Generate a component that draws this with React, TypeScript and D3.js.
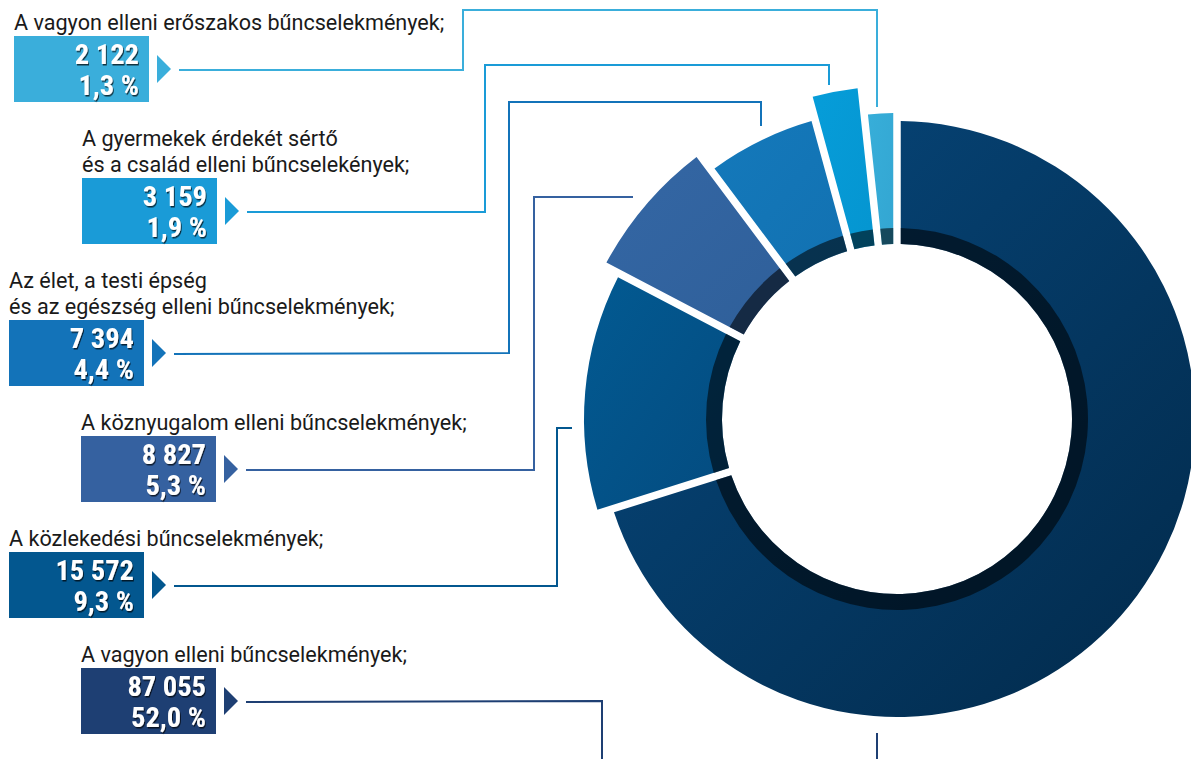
// Externals
import * as d3 from 'd3'
import React, { useEffect, useRef } from 'react'

// Data, listed top to bottom as the labels read (pie runs counter-clockwise from 12 o'clock)
const categories = [
  'A vagyon elleni erőszakos bűncselekmények;',
  'A gyermekek érdekét sértő\nés a család elleni bűncselekények;',
  'Az élet, a testi épség\nés az egészség elleni bűncselekmények;',
  'A köznyugalom elleni bűncselekmények;',
  'A közlekedési bűncselekmények;',
  'A vagyon elleni bűncselekmények;',
]
const counts = [2122, 3159, 7394, 8827, 15572, 87055]
const shares = [1.3, 1.9, 4.4, 5.3, 9.3, 52.0]

// Styles
const sliceColors = ['#37aed9', '#069dd9', '#1479bb', '#3467a5', '#025a92', '#07487d']
const sliceColorsDark = ['#33a6d2', '#0595d0', '#1271b1', '#2f5f99', '#044b7f', '#022a4b']
const boxColors = ['#3aaedb', '#1a9bd7', '#1373b9', '#3561a0', '#03578f', '#1e3f73']
const outerRadii = [306, 333, 310, 330, 313, 298]

// Label layout: box corner and the leader route after it leaves the pointer
const boxX = [14, 82, 9, 81, 9, 81]
const boxY = [36, 178, 320, 436, 552, 668]
const leaderRoutes = [
  [[463, 70], [463, 10], [877, 10], [877, 107]],
  [[485, 212], [485, 65], [829, 65], [829, 85]],
  [[509, 353], [509, 102], [761, 102], [761, 126]],
  [[534, 470], [534, 197], [633, 197]],
  [[557, 586], [557, 428], [572, 428]],
  [[602, 701], [602, 760]],
]

const fmtLocale = d3.formatLocale({
  decimal: ',',
  thousands: '\u00a0',
  grouping: [3],
  currency: ['', ' Ft'],
})
const fmtCount = fmtLocale.format(',d')
const fmtShare = fmtLocale.format(',.1f')

const App = () => {
  const svgRef = useRef<any>(null)

  useEffect(() => {
    if (!svgRef.current) return
    d3.select(svgRef.current).selectAll('*').remove()

    const width = 1191
    const height = 759
    const cx = 897
    const cy = 419
    const innerR = 175
    const ringR = 191
    const boxW = 135
    const boxH = 66
    const gap = 7.5

    const svg = d3.select(svgRef.current)
      .attr('width', width)
      .attr('height', height)

    const defs = svg.append('defs')
    sliceColors.forEach((c, i) => {
      const g = defs.append('linearGradient')
        .attr('id', `slice-grad-${i}`)
        .attr('x1', 0).attr('y1', 0).attr('x2', 1).attr('y2', 1)
      g.append('stop').attr('offset', '0%').attr('stop-color', c)
      g.append('stop').attr('offset', '100%').attr('stop-color', sliceColorsDark[i])
    })
    const shadow = defs.append('filter')
      .attr('id', 'num-shadow')
      .attr('x', '-10%').attr('y', '-20%').attr('width', '130%').attr('height', '150%')
    shadow.append('feDropShadow')
      .attr('dx', 1).attr('dy', 1.5).attr('stdDeviation', 0.6)
      .attr('flood-color', '#000').attr('flood-opacity', 0.7)

    // Donut (gaps are cut out of the slices, not added between them)
    const pie = d3.pie<number>()
      .sort(null)
      .startAngle(0)
      .endAngle(-2 * Math.PI)
    const arcs = pie(counts)

    const chart = svg.append('g')
      .attr('transform', `translate(${cx}, ${cy})`)

    const sliceArc: any = d3.arc()
      .innerRadius(innerR)
      .outerRadius((d: any) => outerRadii[d.index])
      .padAngle(gap / 200)
      .padRadius(200)

    chart.selectAll('.slice')
      .data(arcs)
      .enter()
      .append('path')
      .attr('class', 'slice')
      .attr('d', sliceArc)
      .attr('fill', (d, i) => `url(#slice-grad-${i})`)

    // Dark inner ring on each slice
    const ringArc: any = d3.arc()
      .innerRadius(innerR)
      .outerRadius(ringR)
      .padAngle(gap / 200)
      .padRadius(200)

    chart.selectAll('.ring')
      .data(arcs)
      .enter()
      .append('path')
      .attr('class', 'ring')
      .attr('d', ringArc)
      .attr('fill', '#000')
      .attr('opacity', 0.56)

    // Labels
    const labels = svg.selectAll('.label')
      .data(categories)
      .enter()
      .append('g')
      .attr('class', 'label')

    labels.each(function (name, i) {
      const g = d3.select(this)
      const lines = name.split('\n')
      const x0 = boxX[i]
      const y0 = boxY[i]

      g.append('text')
        .attr('x', x0)
        .attr('font-family', 'Roboto, sans-serif')
        .attr('font-size', 21.6)
        .attr('fill', '#1a1a1a')
        .selectAll('tspan')
        .data(lines)
        .enter()
        .append('tspan')
        .attr('x', x0)
        .attr('y', (d, j) => y0 - 6 - (lines.length - 1 - j) * 26)
        .text((d) => d)

      g.append('rect')
        .attr('x', x0)
        .attr('y', y0)
        .attr('width', boxW)
        .attr('height', boxH)
        .attr('fill', boxColors[i])

      const numbers = g.append('g')
        .attr('filter', 'url(#num-shadow)')
        .attr('font-family', "'Roboto Condensed', Roboto, sans-serif")
        .attr('font-weight', 700)
        .attr('font-size', 28.5)
        .attr('fill', '#fff')
        .attr('text-anchor', 'end')
      numbers.append('text')
        .attr('x', x0 + boxW - 10)
        .attr('y', y0 + 28)
        .text(fmtCount(counts[i]))
      numbers.append('text')
        .attr('x', x0 + boxW - 10)
        .attr('y', y0 + 59)
        .text(`${fmtShare(shares[i])} %`)

      // Pointer triangle
      const tx = x0 + boxW + 8
      const ty = y0 + 33
      g.append('path')
        .attr('d', `M${tx},${ty - 14}L${tx + 14},${ty}L${tx},${ty + 14}Z`)
        .attr('fill', boxColors[i])

      // Leader line
      const start: [number, number] = [x0 + boxW + 30, y0 + 34]
      const route = [start, ...leaderRoutes[i]] as [number, number][]
      g.append('path')
        .attr('d', d3.line()(route))
        .attr('fill', 'none')
        .attr('stroke', boxColors[i])
        .attr('stroke-width', 2)
    })

    // Leader of a label that lies below the visible area
    svg.append('line')
      .attr('x1', 877).attr('x2', 877)
      .attr('y1', 733).attr('y2', height)
      .attr('stroke', '#1e3f73')
      .attr('stroke-width', 2)
  }, [])

  return (
    <div>
      <svg ref={svgRef} style={{ position: 'absolute', left: 0, top: 0 }}></svg>
    </div>
  )
}

export default App
